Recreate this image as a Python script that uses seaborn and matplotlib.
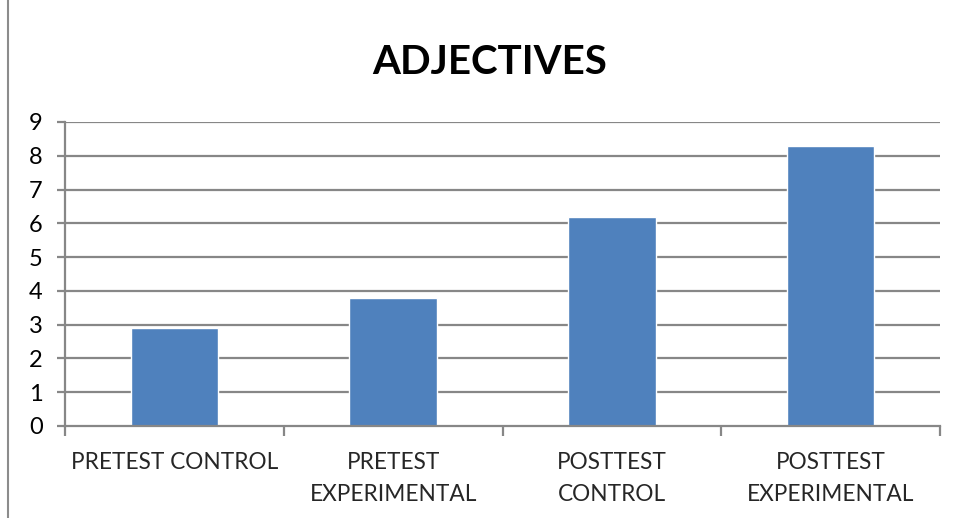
import matplotlib
matplotlib.use("Agg")
import matplotlib.pyplot as plt
import seaborn as sns
import pandas as pd
from matplotlib.lines import Line2D

categories = ["PRETEST CONTROL", "PRETEST\nEXPERIMENTAL", "POSTTEST\nCONTROL", "POSTTEST\nEXPERIMENTAL"]
values = [2.9, 3.8, 6.2, 8.3]
y_ticks = list(range(0, 10))
title = "ADJECTIVES"

bar_color = "#4F81BD"
grid_color = "#878787"

sns.set_theme(style="white")
plt.rcParams["font.family"] = ["Lato", "DejaVu Sans"]

df = pd.DataFrame({"group": categories, "score": values})

fig = plt.figure(figsize=(9.57, 5.18), dpi=100)
ax = fig.add_axes([65 / 957, (518 - 426) / 518, (940 - 65) / 957, (426 - 122) / 518])

sns.barplot(data=df, x="group", y="score", color=bar_color, width=0.4,
            saturation=1, ax=ax, zorder=3)

ax.set_ylim(0, 9)
ax.set_xlim(-0.5, len(categories) - 0.5)
ax.set_yticks(y_ticks)
ax.set_yticklabels([str(t) for t in y_ticks], fontsize=17, color="black")
ax.set_xlabel("")
ax.set_ylabel("")

# horizontal gridlines
for t in y_ticks[1:]:
    ax.axhline(t, color=grid_color, lw=1.6, zorder=1)

for s in ["top", "right"]:
    ax.spines[s].set_visible(False)
for s in ["left", "bottom"]:
    ax.spines[s].set_color(grid_color)
    ax.spines[s].set_linewidth(1.6)
    ax.spines[s].set_zorder(4)

ax.tick_params(axis="y", length=6, width=1.6, color=grid_color, pad=10, left=True)
ax.tick_params(axis="x", bottom=False, pad=13)
ax.set_xticks(range(len(categories)))
ax.set_xticklabels(categories, fontsize=16.3, linespacing=1.6)

# category boundary ticks on the x axis
ax.set_xticks([i - 0.5 for i in range(len(categories) + 1)], minor=True)
ax.tick_params(axis="x", which="minor", bottom=True, length=7, width=1.6, color=grid_color)

fig.text(490 / 957, 1 - 63 / 518, title, ha="center", va="center",
         fontsize=29, fontweight="bold", color="black")

# chart area frame edge on the left
fig.add_artist(Line2D([8 / 957, 8 / 957], [0, 1], transform=fig.transFigure,
                      color="#8c8c8c", lw=1.5))

fig.savefig("out.png", dpi=100, facecolor="white")
